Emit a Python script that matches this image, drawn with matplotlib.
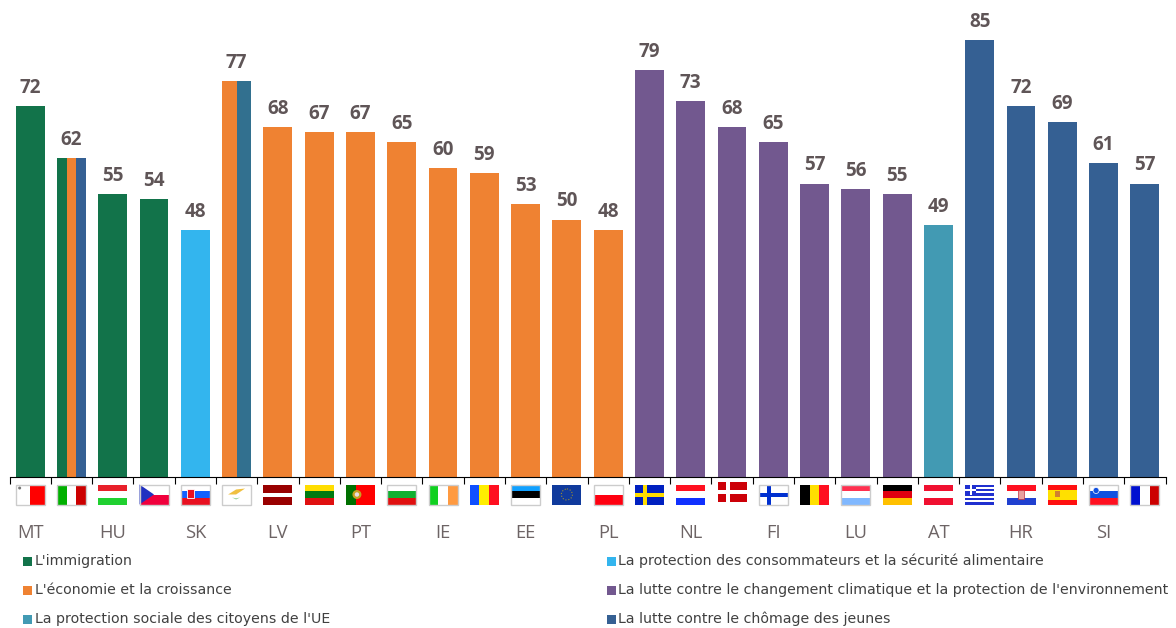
import matplotlib
matplotlib.use("Agg")
import matplotlib.pyplot as plt
from matplotlib.patches import Rectangle, Polygon, Circle

GREEN = "#12734a"
SKY = "#33b5ee"
ORANGE = "#ef8232"
PURPLE = "#72588f"
TEAL = "#429ab3"
BLUE = "#356093"
CY_BLUE = "#32708f"

countries = ["MT", "IT", "HU", "CZ", "SK", "CY", "LV", "LT", "PT", "BG", "IE", "RO", "EE", "EU",
             "PL", "SE", "NL", "DK", "FI", "BE", "LU", "DE", "AT", "EL", "HR", "ES", "SI", "FR"]
values = [72, 62, 55, 54, 48, 77, 68, 67, 67, 65, 60, 59, 53, 50,
          48, 79, 73, 68, 65, 57, 56, 55, 49, 85, 72, 69, 61, 57]
bar_colors = [[GREEN], [GREEN, ORANGE, BLUE], [GREEN], [GREEN], [SKY], [ORANGE, CY_BLUE]] \
    + [[ORANGE]] * 9 + [[PURPLE]] * 7 + [[TEAL]] + [[BLUE]] * 5
# only every second country has its code written under the flag
shown_labels = countries[::2]

legend_left = [("L'immigration", GREEN), ("L'économie et la croissance", ORANGE),
               ("La protection sociale des citoyens de l'UE", TEAL)]
legend_right = [("La protection des consommateurs et la sécurité alimentaire", SKY),
                ("La lutte contre le changement climatique et la protection de l'environnement", PURPLE),
                ("La lutte contre le chômage des jeunes", BLUE)]

# flag stripes: (direction, colours)
flags = {
    "MT": ("v", ["#ffffff", "#ff0000"]), "IT": ("v", ["#00b000", "#ffffff", "#cc0000"]),
    "HU": ("h", ["#e8202a", "#ffffff", "#20d030"]), "CZ": ("h", ["#ffffff", "#f0003c"]),
    "SK": ("h", ["#ffffff", "#1060ff", "#e81020"]), "CY": ("h", ["#ffffff"]),
    "LV": ("h", ["#990000", "#990000", "#ffffff", "#990000", "#990000"]),
    "LT": ("h", ["#ffdd00", "#007a10", "#e01010"]), "PT": ("v", ["#007000", "#ff0000", "#ff0000"]),
    "BG": ("h", ["#ffffff", "#10b030", "#e01010"]), "IE": ("v", ["#10d020", "#ffffff", "#ff9a40"]),
    "RO": ("v", ["#1050ff", "#ffee00", "#ff1020"]), "EE": ("h", ["#10a0ff", "#000000", "#ffffff"]),
    "EU": ("h", ["#103a9c"]), "PL": ("h", ["#ffffff", "#ff0010"]), "SE": ("h", ["#0020c0"]),
    "NL": ("h", ["#ff1020", "#ffffff", "#1030ff"]), "DK": ("h", ["#cc0008"]), "FI": ("h", ["#ffffff"]),
    "BE": ("v", ["#000000", "#ffe000", "#ff1020"]), "LU": ("h", ["#ff3050", "#ffffff", "#80b8ff"]),
    "DE": ("h", ["#000000", "#e00010", "#ffc000"]), "AT": ("h", ["#f01030", "#ffffff", "#f01030"]),
    "EL": ("h", ["#2030d0", "#ffffff"] * 4 + ["#2030d0"]), "HR": ("h", ["#ff1020", "#ffffff", "#2040d0"]),
    "ES": ("h", ["#ff1010", "#ffe000", "#ffe000", "#ff1010"]), "SI": ("h", ["#ffffff", "#1050e0", "#ff1020"]),
    "FR": ("v", ["#0010d0", "#ffffff", "#cc0000"]),
}
bordered = ["MT", "IT", "CZ", "SK", "CY", "BG", "IE", "EE", "PL", "FI", "LU", "SI", "FR"]

W, H = 1176, 628
fig = plt.figure(figsize=(W / 100, H / 100), dpi=100)
ax = fig.add_axes([9.5 / W, (H - 476.5) / H, 1156 / W, 476.5 / H])
ax.set_xlim(-0.5, 27.5)
ax.set_ylim(0, 476.5 / 5.14)

bar_width = 0.7
for i, (v, cols) in enumerate(zip(values, bar_colors)):
    part = bar_width / len(cols)
    for k, c in enumerate(cols):
        ax.bar(i - bar_width / 2 + part * (k + 0.5), v, width=part, color=c, linewidth=0)
    ax.annotate(str(v), (i, v), xytext=(0, 13), textcoords="offset points", ha="center", va="center",
                fontsize=13.6, fontweight="bold", family="Open Sans", color="#5f5557")

for s in ["top", "left", "right"]:
    ax.spines[s].set_visible(False)
ax.spines["bottom"].set_linewidth(0.8)
ax.set_yticks([])
ax.set_xticks([i - 0.5 for i in range(29)])
ax.set_xticklabels([])
ax.tick_params(axis="x", length=4.8, width=0.8, color="black")

# overlay in pixel coordinates for flags and legend
ov = fig.add_axes([0, 0, 1, 1])
ov.set_xlim(0, W)
ov.set_ylim(H, 0)
ov.axis("off")


def draw_flag(code, cx):
    x0, y0, w, h = cx - 14.5, 484.5, 29, 20
    if code == "DK":
        y0 = 482
    direction, cols = flags[code]
    n = len(cols)
    for k, c in enumerate(cols):
        if direction == "v":
            ov.add_patch(Rectangle((x0 + w * k / n, y0), w / n, h, fc=c, lw=0))
        else:
            ov.add_patch(Rectangle((x0, y0 + h * k / n), w, h / n, fc=c, lw=0))
    if code == "CZ":
        ov.add_patch(Polygon([(x0, y0), (x0 + w / 2, y0 + h / 2), (x0, y0 + h)], fc="#2030c0", lw=0))
    if code == "MT":
        ov.add_patch(Circle((x0 + 4, y0 + 3.5), 1.5, fc="#777777", lw=0))
    if code == "SK":
        ov.add_patch(Rectangle((x0 + 6, y0 + 4), 7, 9, fc="#e81020", ec="white", lw=0.6))
    if code == "CY":
        ov.add_patch(Polygon([(x0 + 6, y0 + 10), (x0 + 14, y0 + 5), (x0 + 23, y0 + 4), (x0 + 14, y0 + 10)],
                             fc="#f0c040", lw=0))
        ov.add_patch(Polygon([(x0 + 10, y0 + 13), (x0 + 14, y0 + 15), (x0 + 18, y0 + 13), (x0 + 14, y0 + 13.8)],
                             fc="#90d090", lw=0))
    if code == "PT":
        ov.add_patch(Circle((x0 + 11, y0 + h / 2), 4.5, fc="#c8a020", lw=0))
        ov.add_patch(Circle((x0 + 11, y0 + h / 2), 2.2, fc="#e8e0e0", lw=0))
    if code == "EU":
        ov.add_patch(Circle((x0 + w / 2, y0 + h / 2), 5.5, fc="none", ec="#a09030", lw=0.8, ls=":"))
    if code in ("SE", "FI", "DK"):
        cc = {"SE": "#ffdd00", "FI": "#0030d0", "DK": "#ffffff"}[code]
        ov.add_patch(Rectangle((x0, y0 + h / 2 - 2), w, 4, fc=cc, lw=0))
        ov.add_patch(Rectangle((x0 + 8, y0), 4, h, fc=cc, lw=0))
    if code == "EL":
        ov.add_patch(Rectangle((x0, y0), 11, 10.5, fc="#2030d0", lw=0))
        ov.add_patch(Rectangle((x0, y0 + 4), 11, 2.4, fc="white", lw=0))
        ov.add_patch(Rectangle((x0 + 4.3, y0), 2.4, 10.5, fc="white", lw=0))
    if code == "HR":
        ov.add_patch(Rectangle((x0 + 11, y0 + 5), 6, 9, fc="#e8a0a0", ec="#c03040", lw=0.5))
    if code == "ES":
        ov.add_patch(Rectangle((x0 + 7, y0 + 6.5), 5, 6, fc="#d08030", lw=0))
    if code == "SI":
        ov.add_patch(Circle((x0 + 7, y0 + 6), 3, fc="#1050e0", ec="white", lw=0.5))
    if code in bordered:
        ov.add_patch(Rectangle((x0, y0), w, h, fc="none", ec="#cccccc", lw=1))


px_of = lambda i: ax.transData.transform((i, 0))[0]
for i, code in enumerate(countries):
    draw_flag(code, px_of(i))

for i, lab in enumerate(shown_labels):
    ov.text(px_of(i * 2), 533, lab, ha="center", va="center", family="Open Sans", fontsize=13.2, color="#6d6465")

rows = [561, 590, 619]
for (txt, c), y in zip(legend_left, rows):
    ov.add_patch(Rectangle((23, y - 4.5), 9, 9, fc=c, lw=0))
    ov.text(35, y, txt, va="center", ha="left", family="DejaVu Sans", fontsize=10.15, color="#404040")
for (txt, c), y in zip(legend_right, rows):
    ov.add_patch(Rectangle((607, y - 4.5), 9, 9, fc=c, lw=0))
    ov.text(618, y, txt, va="center", ha="left", family="DejaVu Sans", fontsize=10.15, color="#404040")

fig.savefig("out.png", dpi=100)
